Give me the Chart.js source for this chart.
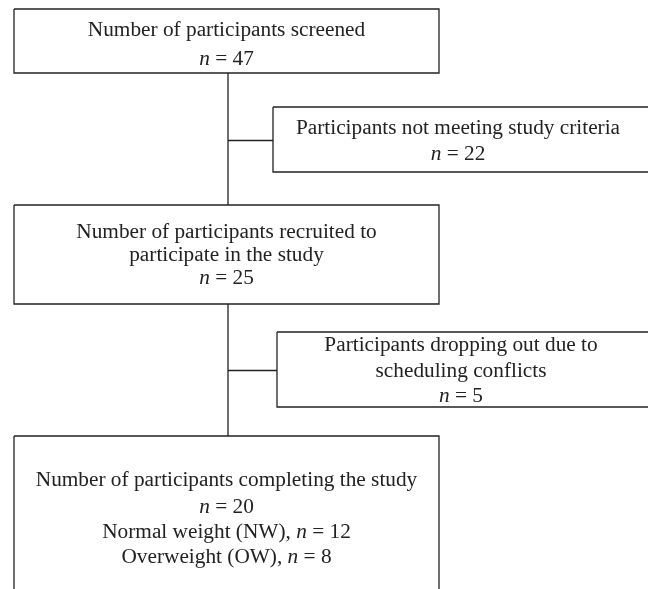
<!DOCTYPE html>
<html>
<head>
<meta charset="utf-8">
<script src="https://cdn.jsdelivr.net/npm/chart.js@4.4.1/dist/chart.umd.min.js"></script>
<style>
  html, body { margin: 0; padding: 0; background: #fff; }
  #flow { display: block; }
</style>
</head>
<body>
<canvas id="flow" width="648" height="589"></canvas>
<script>
// flow stages (data)
const stageTitles = [
  ['Number of participants screened'],
  ['Participants not meeting study criteria'],
  ['Number of participants recruited to', 'participate in the study'],
  ['Participants dropping out due to', 'scheduling conflicts'],
  ['Number of participants completing the study']
];
const stageCounts = [47, 22, 25, 5, 20];
const groupLabels = ['Normal weight (NW)', 'Overweight (OW)'];
const groupCounts = [12, 8];

// box geometry in page units (left, top, right, bottom) and text line centres
const boxes = [
  { l: 14, t: 9, r: 439, b: 73, cx: 226.5, lines: [30, 59] },
  { l: 273, t: 107, r: 660, b: 172, cx: 458, lines: [128, 154] },
  { l: 14, t: 205, r: 439, b: 304, cx: 226.5, lines: [232, 255, 278] },
  { l: 277, t: 332, r: 660, b: 407, cx: 461, lines: [345, 371, 396] },
  { l: 14, t: 436, r: 439, b: 620, cx: 226.5, lines: [480, 507, 532, 557] }
];
const trunkX = 228;

const ink = '#222';
const font = '"Liberation Serif", "DejaVu Serif", serif';
const fontSize = 21.3;

// outlines from geometry
const outline = b => [
  { x: b.l, y: b.t }, { x: b.r, y: b.t }, { x: b.r, y: b.b },
  { x: b.l, y: b.b }, { x: b.l, y: b.t }
];
const lineSet = pts => ({
  data: pts, showLine: true, borderColor: ink, borderWidth: 1.3,
  pointRadius: 0, fill: false, tension: 0
});

const datasets = boxes.map(b => lineSet(outline(b)));
// trunk: box 1 -> box 3 -> box 5
datasets.push(lineSet([{ x: trunkX, y: boxes[0].b }, { x: trunkX, y: boxes[2].t }]));
datasets.push(lineSet([{ x: trunkX, y: boxes[2].b }, { x: trunkX, y: boxes[4].t }]));
// branches to side boxes
[1, 3].forEach(i => {
  const b = boxes[i];
  const y = (b.t + b.b) / 2 + 1;
  datasets.push(lineSet([{ x: trunkX, y: y }, { x: b.l, y: y }]));
});

// text lines per box, each line a list of [text, italic]
function textLines(i) {
  const rows = stageTitles[i].map(s => [[s, false]]);
  rows.push([['n', true], [' = ' + stageCounts[i], false]]);
  if (i === 4) {
    groupLabels.forEach((g, k) => {
      rows.push([[g + ', ', false], ['n', true], [' = ' + groupCounts[k], false]]);
    });
  }
  return rows;
}

const boxText = {
  id: 'boxText',
  afterDatasetsDraw(chart) {
    const ctx = chart.ctx;
    const xs = chart.scales.x, ys = chart.scales.y;
    ctx.save();
    ctx.fillStyle = ink;
    ctx.textBaseline = 'middle';
    ctx.textAlign = 'left';
    boxes.forEach((b, i) => {
      textLines(i).forEach((segs, j) => {
        let w = 0;
        segs.forEach(([s, it]) => {
          ctx.font = (it ? 'italic ' : '') + fontSize + 'px ' + font;
          w += ctx.measureText(s).width;
        });
        let x = xs.getPixelForValue(b.cx) - w / 2;
        const y = ys.getPixelForValue(b.lines[j]);
        segs.forEach(([s, it]) => {
          ctx.font = (it ? 'italic ' : '') + fontSize + 'px ' + font;
          ctx.fillText(s, x, y);
          x += ctx.measureText(s).width;
        });
      });
    });
    ctx.restore();
  }
};

new Chart(document.getElementById('flow'), {
  type: 'scatter',
  data: { datasets: datasets },
  options: {
    responsive: false,
    animation: false,
    events: [],
    layout: { padding: 0 },
    plugins: { legend: { display: false }, tooltip: { enabled: false } },
    scales: {
      x: { type: 'linear', min: 0, max: 648, display: false },
      y: { type: 'linear', min: 0, max: 589, reverse: true, display: false }
    },
    elements: { line: { capBezierPoints: false } }
  },
  plugins: [boxText]
});
</script>
</body>
</html>
